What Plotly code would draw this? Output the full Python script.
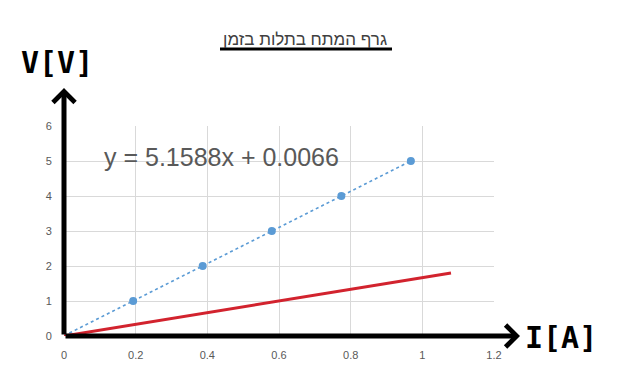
import plotly.graph_objects as go
import numpy as np

# Data
current = [0.193, 0.387, 0.58, 0.774, 0.968]
voltage = [1, 2, 3, 4, 5]
slope = 5.1588
intercept = 0.0066
red_x = [0, 1.08]
red_y = [0, 1.8]
x_ticks = [0, 0.2, 0.4, 0.6, 0.8, 1, 1.2]
x_tick_text = ["0", "0.2", "0.4", "0.6", "0.8", "1", "1.2"]
y_ticks = [0, 1, 2, 3, 4, 5, 6]
title_text = "גרף המתח בתלות בזמן"
equation = "y = 5.1588x + 0.0066"

trend_x = np.array([0, max(current)])
trend_y = slope * trend_x + intercept

fig = go.Figure()
fig.add_trace(go.Scatter(x=trend_x, y=trend_y, mode="lines",
                         line=dict(color="#5B9BD5", width=1.6, dash="dot"),
                         hoverinfo="skip", cliponaxis=False))
fig.add_trace(go.Scatter(x=red_x, y=red_y, mode="lines",
                         line=dict(color="#D2232E", width=3), cliponaxis=False))
fig.add_trace(go.Scatter(x=current, y=voltage, mode="markers",
                         marker=dict(color="#5B9BD5", size=8), cliponaxis=False))

L, R, T, B = 64, 123, 126, 41
W, H = 617 - L - R, 377 - T - B
fig.update_layout(
    width=617, height=377,
    margin=dict(l=L, r=R, t=T, b=B, pad=0),
    plot_bgcolor="white", paper_bgcolor="white",
    showlegend=False,
    font=dict(family="Liberation Sans, Arial", color="#595959", size=11),
)
fig.update_xaxes(range=[0, 1.2], tickvals=x_ticks, ticktext=x_tick_text,
                 showgrid=True, gridcolor="#D9D9D9", gridwidth=1,
                 zeroline=False, showline=False, ticks="outside", ticklen=9,
                 tickcolor="rgba(0,0,0,0)",
                 tickfont=dict(size=11, color="#595959"), fixedrange=True)
fig.update_yaxes(range=[0, 6], tickvals=y_ticks,
                 showgrid=True, gridcolor="#D9D9D9", gridwidth=1,
                 zeroline=False, showline=False, ticks="outside", ticklen=9,
                 tickcolor="rgba(0,0,0,0)",
                 tickfont=dict(size=11, color="#595959"), fixedrange=True)


def px(xp):
    return (xp - L) / W


def py(yp):
    return (377 - B - yp) / H


# Thick black arrows for axes
fig.add_annotation(x=0, y=(377 - B - 88) / H * 6, ax=0, ay=0, xref="x", yref="y",
                   axref="x", ayref="y",
                   text="", showarrow=True, arrowhead=4, arrowsize=0.85,
                   arrowwidth=5, arrowcolor="black")
fig.add_annotation(x=(520 - L) / W * 1.2, y=0, ax=0, ay=0, xref="x", yref="y",
                   axref="x", ayref="y",
                   text="", showarrow=True, arrowhead=4, arrowsize=0.85,
                   arrowwidth=5, arrowcolor="black")

# Axis labels
fig.add_annotation(x=px(57), y=py(63), xref="paper", yref="paper",
                   xanchor="center", yanchor="middle",
                   text="<b>V[V]</b>", showarrow=False,
                   font=dict(family="DejaVu Sans Mono", size=30, color="black"))
fig.add_annotation(x=px(561), y=py(337), xref="paper", yref="paper",
                   xanchor="center", yanchor="middle",
                   text="<b>I[A]</b>", showarrow=False,
                   font=dict(family="DejaVu Sans Mono", size=30, color="black"))

# Title
fig.add_annotation(x=px(305), y=py(40), xref="paper", yref="paper",
                   xanchor="center", yanchor="middle",
                   text=title_text, showarrow=False,
                   font=dict(family="Liberation Sans, Arial", size=17, color="#404040"))
fig.add_shape(type="line", xref="paper", yref="paper",
              x0=px(220), x1=px(392), y0=py(49), y1=py(49),
              line=dict(color="black", width=3))

# Equation
fig.add_annotation(x=px(221), y=py(157), xref="paper", yref="paper",
                   xanchor="center", yanchor="middle",
                   text=equation, showarrow=False,
                   font=dict(family="Liberation Sans, Arial", size=25, color="#595959"))

fig.write_html("out.html")
